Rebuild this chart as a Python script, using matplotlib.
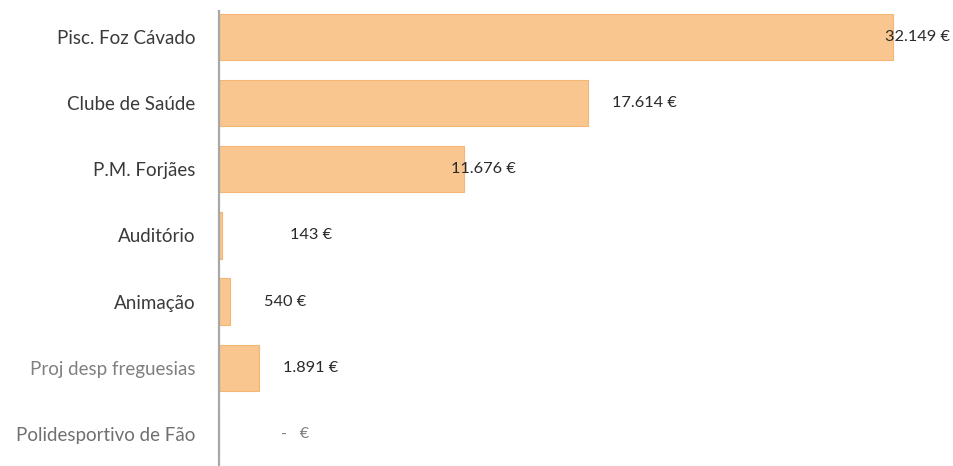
import matplotlib
matplotlib.use("Agg")
import matplotlib.pyplot as plt

categories = ["Pisc. Foz Cávado", "Clube de Saúde", "P.M. Forjães", "Auditório",
              "Animação", "Proj desp freguesias", "Polidesportivo de Fão"]
values = [32149, 17614, 11676, 143, 540, 1891, 0]
value_labels = ["32.149 €", "17.614 €", "11.676 €", "143 €", "540 €", "1.891 €", "-   €"]
cat_colors = ["#3a3a3a", "#3a3a3a", "#3a3a3a", "#3a3a3a", "#3a3a3a", "#808080", "#707070"]
val_colors = ["#2a2a2a", "#2a2a2a", "#2a2a2a", "#2a2a2a", "#2a2a2a", "#2a2a2a", "#808080"]
# horizontal label offsets in pixels from bar end
label_dx = [-8, 24, -13, 68, 34, 24, 62]

DPI = 100
fig = plt.figure(figsize=(9.54, 4.66), dpi=DPI)
ax = fig.add_axes([219 / 954, 0.0, 1 - 219 / 954, 1.0])

y = list(range(len(categories)))
ax.barh(y, values, height=0.7, color="#F9C68F", edgecolor="#F4B677", linewidth=0.8)

ax.set_xlim(0, 35058)
ax.set_ylim(6.484, -0.559)

ax.set_yticks(y)
ax.set_yticklabels(categories, fontsize=13.5, family=["Lato", "DejaVu Sans"])
for t, c in zip(ax.get_yticklabels(), cat_colors):
    t.set_color(c)
ax.tick_params(axis="y", length=0, pad=17)
ax.set_xticks([])

for s in ["top", "right", "bottom"]:
    ax.spines[s].set_visible(False)
ax.spines["left"].set_color("#a8a8a8")
ax.spines["left"].set_linewidth(1.6)
ax.spines["left"].set_bounds(-0.4, 6.484)

for yi, v, lab, dx, c in zip(y, values, value_labels, label_dx, val_colors):
    ax.annotate(lab, xy=(v, yi), xytext=(dx * 72 / DPI, 0), textcoords="offset points",
                ha="left", va="center", fontsize=11.8, color=c,
                family=["Lato", "DejaVu Sans"])

fig.savefig("out.png", dpi=DPI)
